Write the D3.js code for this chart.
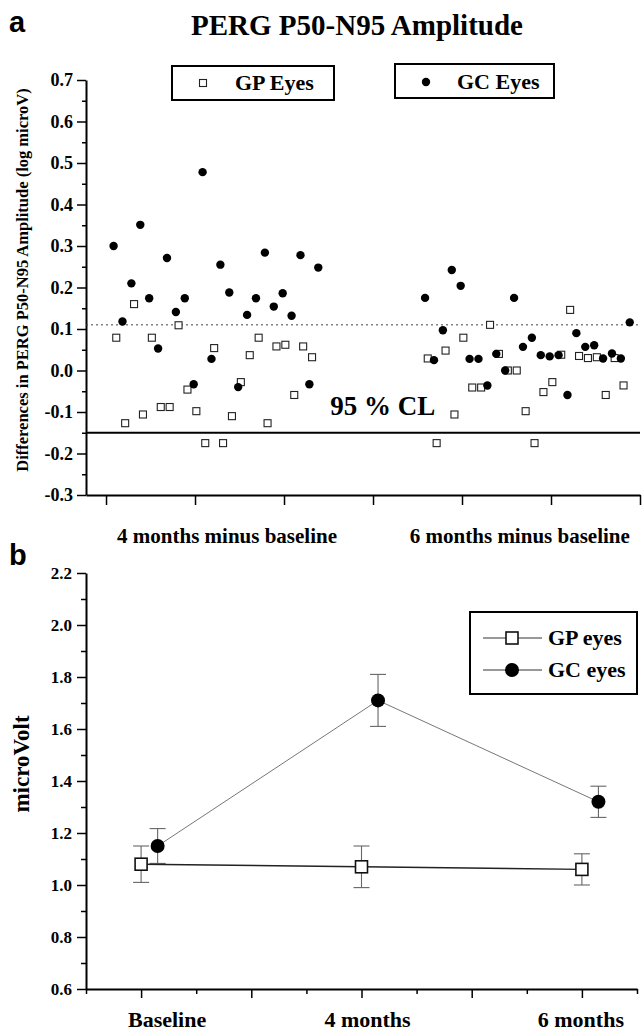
<!DOCTYPE html>
<html>
<head>
<meta charset="utf-8">
<script src="https://cdn.jsdelivr.net/npm/d3@7"></script>
<style>
  body { margin: 0; background: #fff; }
  text { font-family: "Liberation Serif", "Times New Roman", serif; font-weight: bold; fill: #000; }
  .panel-tag { font-family: "Liberation Sans", Arial, sans-serif; }
</style>
</head>
<body>
<div id="chart"></div>
<script>
// ---- panel a: differences (log microV), one value per eye, in order ----
const gcFourMonths = [0.30, 0.118, 0.21, 0.351, 0.174, 0.053, 0.271, 0.141, 0.174, -0.033, 0.478, 0.028,
                      0.255, 0.188, -0.04, 0.134, 0.174, 0.284, 0.154, 0.186, 0.132, 0.278, -0.033, 0.248];
const gpFourMonths = [0.079, -0.127, 0.16, -0.106, 0.079, -0.088, -0.088, 0.109, -0.046, -0.098, -0.175, 0.054,
                      -0.175, -0.11, -0.028, 0.037, 0.079, -0.127, 0.058, 0.062, -0.059, 0.058, 0.032];
const gcSixMonths = [0.175, 0.025, 0.097, 0.242, 0.204, 0.028, 0.028, -0.036, 0.04, 0.0, 0.175, 0.057,
                     0.079, 0.037, 0.034, 0.037, -0.059, 0.09, 0.057, 0.061, 0.029, 0.041, 0.029, 0.116];
const gpSixMonths = [0.029, -0.175, 0.048, -0.106, 0.079, -0.041, -0.041, 0.11, 0.04, 0.0, 0.0, -0.098,
                     -0.175, -0.052, -0.028, 0.038, 0.146, 0.035, 0.03, 0.032, -0.059, 0.03, -0.036];
const groupLabels = ["4 months minus baseline", "6 months minus baseline"];
const groupStart = [1, 36];          // eye index where each group begins
const upperLimit = 0.11;             // dotted line
const lowerCL = -0.15;               // 95 % CL line

// ---- panel b: mean amplitude (microVolt) with error bars ----
const timepoints = ["Baseline", "4 months", "6 months"];
const gpMean = [1.08, 1.07, 1.06];
const gpErr = [0.07, 0.08, 0.06];
const gcMean = [1.15, 1.71, 1.32];
const gcErr = [0.067, 0.10, 0.06];

const svg = d3.select("#chart").append("svg")
    .attr("width", 643)
    .attr("height", 1032);

// ================= panel a =================
const yA = d3.scaleLinear().domain([-0.3, 0.7]).range([495, 80]);
const xA = d3.scaleLinear().domain([-2.25, 60]).range([86, 640]);

svg.append("text").attr("class", "panel-tag")
    .attr("x", 9).attr("y", 32).style("font-size", "29px").text("a");
svg.append("text")
    .attr("x", 357).attr("y", 35)
    .attr("text-anchor", "middle")
    .style("font-size", "29px")
    .text("PERG P50-N95 Amplitude");

const fmt = d => d.toFixed(1);

// minor y ticks
svg.append("g")
    .attr("transform", "translate(86,0)")
    .call(d3.axisLeft(yA).tickValues(d3.range(-25, 70, 10).map(d => d / 100)).tickSize(4).tickFormat(""))
    .call(g => g.select(".domain").remove());
// major y ticks
svg.append("g")
    .attr("transform", "translate(86,0)")
    .call(d3.axisLeft(yA).tickValues(d3.range(-3, 8).map(d => d / 10)).tickSize(9).tickSizeOuter(0).tickPadding(4).tickFormat(fmt))
    .call(g => g.selectAll("text").style("font-size", "18px").style("font-family", "Liberation Serif"))
    .call(g => g.select(".domain").attr("stroke-width", 2));
svg.selectAll("g.tick line").attr("stroke-width", 1.5);

svg.append("g")
    .attr("transform", "translate(0,495)")
    .call(d3.axisBottom(xA).tickValues(d3.range(0, 61, 10)).tickSize(10).tickSizeOuter(0).tickFormat(""))
    .call(g => g.select(".domain").attr("stroke-width", 2))
    .call(g => g.selectAll(".tick line").attr("stroke-width", 1.5));

svg.append("text")
    .attr("transform", "translate(28,280) rotate(-90)")
    .attr("text-anchor", "middle")
    .style("font-size", "16.5px")
    .text("Differences in PERG P50-N95 Amplitude (log microV)");

// group labels
svg.selectAll(".grpLabel")
    .data(groupLabels)
    .enter()
    .append("text")
    .attr("x", (d, i) => xA(i === 0 ? 13.6 : 46.5))
    .attr("y", 543)
    .attr("text-anchor", "middle")
    .style("font-size", "21px")
    .text(d => d);

// reference lines
svg.append("line")
    .attr("x1", xA.range()[0]).attr("x2", xA.range()[1])
    .attr("y1", yA(upperLimit)).attr("y2", yA(upperLimit))
    .attr("stroke", "#444").attr("stroke-width", 1)
    .attr("stroke-dasharray", "2,3");
svg.append("line")
    .attr("x1", xA.range()[0]).attr("x2", xA.range()[1])
    .attr("y1", yA(lowerCL)).attr("y2", yA(lowerCL))
    .attr("stroke", "#000").attr("stroke-width", 2);
svg.append("text")
    .attr("x", xA(31.1)).attr("y", yA(-0.107))
    .attr("text-anchor", "middle")
    .style("font-size", "27px")
    .text("95 % CL");

// points
const gpPts = [], gcPts = [];
[gpFourMonths, gpSixMonths].forEach((arr, g) => arr.forEach((v, i) => gpPts.push({x: groupStart[g] + i + 0.15, y: v})));
[gcFourMonths, gcSixMonths].forEach((arr, g) => arr.forEach((v, i) => gcPts.push({x: groupStart[g] + i - 0.15, y: v})));

svg.selectAll(".gpA")
    .data(gpPts)
    .enter()
    .append("rect")
    .attr("x", d => xA(d.x) - 3.5)
    .attr("y", d => yA(d.y) - 3.5)
    .attr("width", 7).attr("height", 7)
    .attr("fill", "#fff").attr("stroke", "#222").attr("stroke-width", 1.1);

svg.selectAll(".gcA")
    .data(gcPts)
    .enter()
    .append("circle")
    .attr("cx", d => xA(d.x))
    .attr("cy", d => yA(d.y))
    .attr("r", 4.2)
    .attr("fill", "#000");

// legend boxes
const legA = svg.append("g");
legA.append("rect").attr("x", 172).attr("y", 66).attr("width", 162).attr("height", 34)
    .attr("fill", "none").attr("stroke", "#000").attr("stroke-width", 2);
legA.append("rect").attr("x", 199.5).attr("y", 79.5).attr("width", 7).attr("height", 7)
    .attr("fill", "#fff").attr("stroke", "#222").attr("stroke-width", 1.1);
legA.append("text").attr("x", 235).attr("y", 90).style("font-size", "22px").text("GP Eyes");
legA.append("rect").attr("x", 395).attr("y", 64).attr("width", 159).attr("height", 34)
    .attr("fill", "none").attr("stroke", "#000").attr("stroke-width", 2);
legA.append("circle").attr("cx", 426).attr("cy", 82).attr("r", 4.2).attr("fill", "#000");
legA.append("text").attr("x", 457).attr("y", 89).style("font-size", "22px").text("GC Eyes");

// ================= panel b =================
const yB = d3.scaleLinear().domain([0.6, 2.2]).range([989, 573]);
const xB = d3.scaleLinear().domain([0, 10]).range([86, 637]);
const slot = i => 1 + 4 * i;     // timepoint i sits on slot 1, 5, 9
const gcShift = 0.3;

svg.append("text").attr("class", "panel-tag")
    .attr("x", 9).attr("y", 565).style("font-size", "29px").text("b");

svg.append("g")
    .attr("transform", "translate(86,0)")
    .call(d3.axisLeft(yB).tickValues(d3.range(7, 22, 2).map(d => d / 10)).tickSize(5).tickFormat(""))
    .call(g => g.select(".domain").remove())
    .call(g => g.selectAll(".tick line").attr("stroke-width", 1.5));
svg.append("g")
    .attr("transform", "translate(86,0)")
    .call(d3.axisLeft(yB).tickValues(d3.range(6, 23, 2).map(d => d / 10)).tickSize(9).tickSizeOuter(0).tickPadding(5).tickFormat(fmt))
    .call(g => g.selectAll("text").style("font-size", "17px").style("font-family", "Liberation Serif"))
    .call(g => g.select(".domain").attr("stroke-width", 2))
    .call(g => g.selectAll(".tick line").attr("stroke-width", 1.5));

svg.append("g")
    .attr("transform", "translate(0,989)")
    .call(d3.axisBottom(xB).tickValues(d3.range(0, 11, 2)).tickSize(5).tickSizeOuter(0).tickFormat(""))
    .call(g => g.select(".domain").attr("stroke-width", 2))
    .call(g => g.selectAll(".tick line").attr("stroke-width", 1.5));
svg.append("g")
    .attr("transform", "translate(0,989)")
    .call(d3.axisBottom(xB).tickValues(d3.range(1, 10, 2)).tickSize(9).tickSizeOuter(0).tickFormat(""))
    .call(g => g.select(".domain").remove())
    .call(g => g.selectAll(".tick line").attr("stroke-width", 1.5));

const labelShift = [26, 6, -1];
svg.selectAll(".tpLabel")
    .data(timepoints)
    .enter()
    .append("text")
    .attr("x", (d, i) => xB(slot(i)) + labelShift[i])
    .attr("y", 1027)
    .attr("text-anchor", "middle")
    .style("font-size", "22px")
    .text(d => d);

svg.append("text")
    .attr("transform", "translate(29,764) rotate(-90)")
    .attr("text-anchor", "middle")
    .style("font-size", "23px")
    .text("microVolt");

const gpB = timepoints.map((t, i) => ({x: slot(i), m: gpMean[i], e: gpErr[i]}));
const gcB = timepoints.map((t, i) => ({x: slot(i) + gcShift, m: gcMean[i], e: gcErr[i]}));

function errorBars(data) {
    const g = svg.append("g").attr("stroke", "#666").attr("stroke-width", 1.1);
    data.forEach(d => {
        const cx = xB(d.x);
        g.append("line").attr("x1", cx).attr("x2", cx).attr("y1", yB(d.m - d.e)).attr("y2", yB(d.m + d.e));
        g.append("line").attr("x1", cx - 8).attr("x2", cx + 8).attr("y1", yB(d.m + d.e)).attr("y2", yB(d.m + d.e));
        g.append("line").attr("x1", cx - 8).attr("x2", cx + 8).attr("y1", yB(d.m - d.e)).attr("y2", yB(d.m - d.e));
    });
}
errorBars(gpB);
errorBars(gcB);

const lineB = d3.line().x(d => xB(d.x)).y(d => yB(d.m));
svg.append("path").datum(gcB).attr("d", lineB)
    .attr("fill", "none").attr("stroke", "#777").attr("stroke-width", 1);
svg.append("path").datum(gpB).attr("d", lineB)
    .attr("fill", "none").attr("stroke", "#222").attr("stroke-width", 1.4);

svg.selectAll(".gpB")
    .data(gpB)
    .enter()
    .append("rect")
    .attr("x", d => xB(d.x) - 6)
    .attr("y", d => yB(d.m) - 6)
    .attr("width", 12).attr("height", 12)
    .attr("fill", "#fff").attr("stroke", "#111").attr("stroke-width", 1.6);
svg.selectAll(".gcB")
    .data(gcB)
    .enter()
    .append("circle")
    .attr("cx", d => xB(d.x))
    .attr("cy", d => yB(d.m))
    .attr("r", 7)
    .attr("fill", "#000");

// legend
const legB = svg.append("g");
legB.append("rect").attr("x", 470).attr("y", 612).attr("width", 167).attr("height", 82)
    .attr("fill", "#fff").attr("stroke", "#000").attr("stroke-width", 2);
[["GP eyes", 638], ["GC eyes", 670]].forEach(([name, ly], i) => {
    legB.append("line").attr("x1", 483).attr("x2", 542).attr("y1", ly).attr("y2", ly)
        .attr("stroke", "#333").attr("stroke-width", 1);
    if (i === 0) {
        legB.append("rect").attr("x", 506).attr("y", ly - 6).attr("width", 12).attr("height", 12)
            .attr("fill", "#fff").attr("stroke", "#111").attr("stroke-width", 1.6);
    } else {
        legB.append("circle").attr("cx", 512).attr("cy", ly).attr("r", 7).attr("fill", "#000");
    }
    legB.append("text").attr("x", 548).attr("y", ly + 7).style("font-size", "22px").text(name);
});
</script>
</body>
</html>
